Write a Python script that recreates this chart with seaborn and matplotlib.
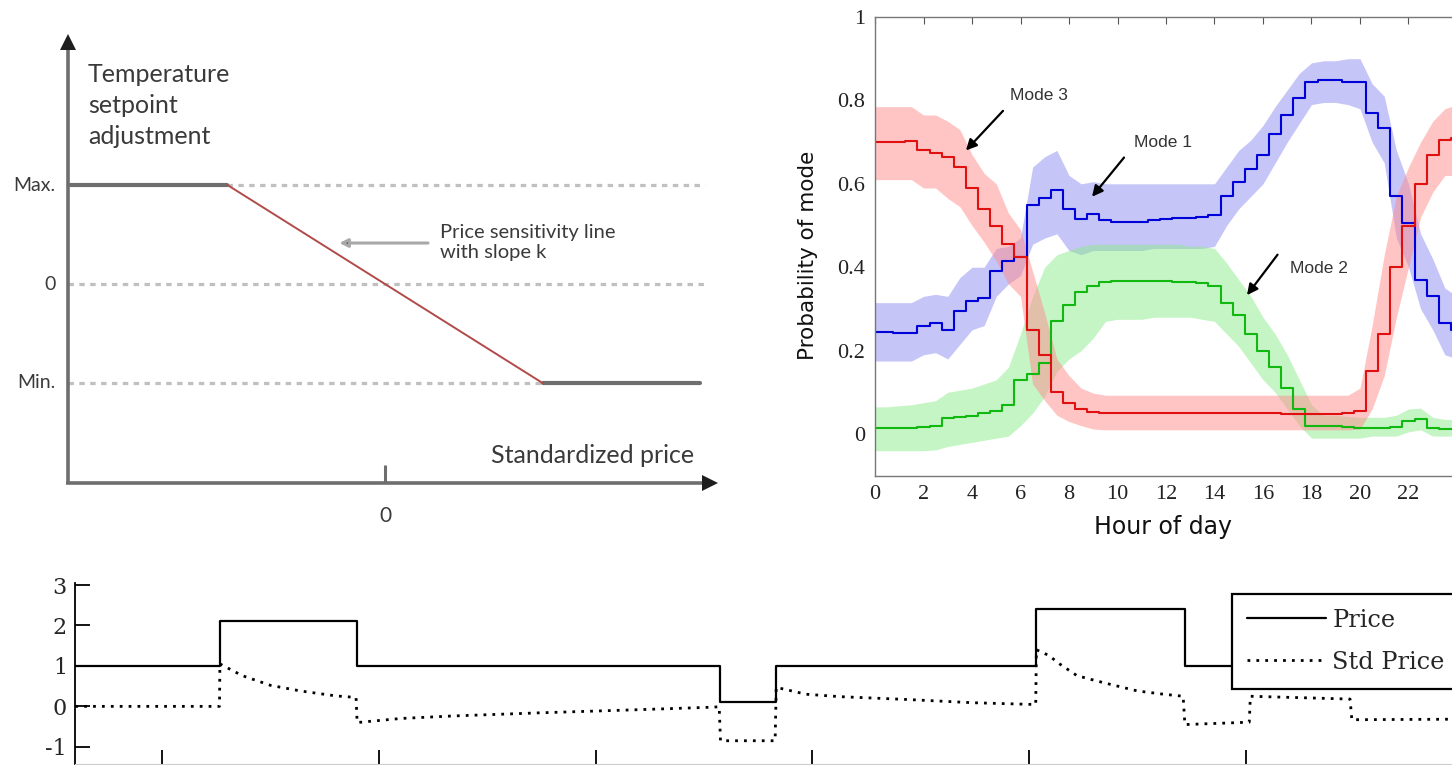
import numpy as np
import pandas as pd
import matplotlib
matplotlib.use("Agg")
import matplotlib.pyplot as plt
import seaborn as sns

sns.set_style("white")
plt.rcParams['font.family'] = ['DejaVu Sans']
plt.rcParams['axes.unicode_minus'] = False

# ---------------- Panel A: price-sensitivity schematic ----------------
price_knots = [-2.0, -1.0, 1.0, 2.0]
setpoint_adj = [1.0, 1.0, -1.0, -1.0]
level_labels = ["Max.", "0", "Min."]
level_values = [1.0, 0.0, -1.0]
price_tick_labels = ["0"]
price_tick_values = [0.0]

# ---------------- Panel B: probability of mode by hour ----------------
hour = np.arange(0, 24.01, 0.5)
hour_ticks = [0, 2, 4, 6, 8, 10, 12, 14, 16, 18, 20, 22]
prob_ticks = [0, 0.2, 0.4, 0.6, 0.8, 1.0]
prob_tick_labels = ["0", "0.2", "0.4", "0.6", "0.8", "1"]

mode1_mean = [0.245, 0.245, 0.243, 0.243, 0.260, 0.265, 0.250, 0.295, 0.320, 0.325,
              0.390, 0.415, 0.425, 0.550, 0.565, 0.585, 0.540, 0.515, 0.528, 0.512,
              0.508, 0.508, 0.508, 0.513, 0.515, 0.517, 0.518, 0.520, 0.525, 0.570,
              0.605, 0.635, 0.670, 0.720, 0.765, 0.805, 0.845, 0.850, 0.848, 0.845,
              0.843, 0.770, 0.735, 0.570, 0.505, 0.370, 0.330, 0.265, 0.250]
mode1_lo = [0.175, 0.175, 0.175, 0.175, 0.190, 0.195, 0.180, 0.215, 0.250, 0.260,
            0.330, 0.360, 0.380, 0.455, 0.470, 0.480, 0.440, 0.430, 0.440, 0.440,
            0.440, 0.440, 0.440, 0.445, 0.445, 0.445, 0.445, 0.445, 0.450, 0.500,
            0.540, 0.570, 0.600, 0.650, 0.700, 0.745, 0.790, 0.795, 0.795, 0.790,
            0.780, 0.700, 0.650, 0.470, 0.400, 0.300, 0.250, 0.190, 0.180]
mode1_hi = [0.315, 0.315, 0.315, 0.315, 0.330, 0.335, 0.330, 0.375, 0.400, 0.400,
            0.445, 0.450, 0.470, 0.640, 0.665, 0.680, 0.620, 0.600, 0.605, 0.600,
            0.600, 0.600, 0.600, 0.600, 0.600, 0.600, 0.600, 0.600, 0.600, 0.640,
            0.680, 0.705, 0.740, 0.785, 0.825, 0.865, 0.890, 0.895, 0.895, 0.900,
            0.900, 0.840, 0.810, 0.680, 0.600, 0.480, 0.420, 0.350, 0.330]

mode2_mean = [0.014, 0.014, 0.015, 0.015, 0.016, 0.018, 0.038, 0.040, 0.042, 0.050,
              0.055, 0.070, 0.130, 0.145, 0.170, 0.270, 0.310, 0.340, 0.355, 0.365,
              0.368, 0.368, 0.367, 0.367, 0.366, 0.365, 0.365, 0.363, 0.355, 0.315,
              0.285, 0.240, 0.200, 0.160, 0.110, 0.060, 0.020, 0.018, 0.018, 0.017,
              0.015, 0.015, 0.015, 0.016, 0.030, 0.035, 0.015, 0.012, 0.012]
mode2_lo = [-0.040, -0.040, -0.040, -0.040, -0.040, -0.038, -0.030, -0.025, -0.020, -0.015,
            -0.010, -0.005, 0.020, 0.050, 0.090, 0.150, 0.180, 0.200, 0.230, 0.270,
            0.275, 0.275, 0.275, 0.280, 0.280, 0.280, 0.280, 0.275, 0.270, 0.240,
            0.210, 0.170, 0.130, 0.100, 0.060, 0.020, -0.010, -0.010, -0.010, -0.010,
            -0.010, -0.005, -0.005, -0.005, 0.005, 0.010, -0.005, -0.005, -0.005]
mode2_hi = [0.065, 0.065, 0.068, 0.070, 0.075, 0.080, 0.100, 0.105, 0.110, 0.120,
            0.130, 0.160, 0.240, 0.330, 0.400, 0.430, 0.440, 0.450, 0.455, 0.455,
            0.455, 0.455, 0.455, 0.455, 0.455, 0.455, 0.450, 0.450, 0.445, 0.410,
            0.370, 0.330, 0.280, 0.240, 0.190, 0.130, 0.070, 0.045, 0.045, 0.042,
            0.040, 0.040, 0.040, 0.045, 0.060, 0.062, 0.040, 0.035, 0.035]

mode3_mean = [0.700, 0.700, 0.700, 0.702, 0.680, 0.675, 0.665, 0.640, 0.590, 0.540,
              0.500, 0.455, 0.425, 0.250, 0.190, 0.100, 0.075, 0.060, 0.052, 0.050,
              0.050, 0.050, 0.050, 0.050, 0.050, 0.050, 0.050, 0.050, 0.050, 0.050,
              0.050, 0.050, 0.050, 0.050, 0.049, 0.048, 0.048, 0.048, 0.048, 0.050,
              0.055, 0.150, 0.240, 0.400, 0.500, 0.600, 0.670, 0.705, 0.710]
mode3_lo = [0.610, 0.610, 0.610, 0.610, 0.590, 0.590, 0.565, 0.545, 0.500, 0.460,
            0.415, 0.360, 0.330, 0.120, 0.080, 0.045, 0.030, 0.020, 0.012, 0.010,
            0.010, 0.010, 0.010, 0.010, 0.010, 0.010, 0.010, 0.010, 0.010, 0.010,
            0.010, 0.010, 0.010, 0.010, 0.010, 0.010, 0.010, 0.010, 0.010, 0.010,
            0.012, 0.060, 0.140, 0.280, 0.400, 0.520, 0.580, 0.620, 0.620]
mode3_hi = [0.785, 0.785, 0.785, 0.785, 0.765, 0.765, 0.750, 0.730, 0.670, 0.625,
            0.600, 0.530, 0.490, 0.390, 0.290, 0.180, 0.140, 0.110, 0.098, 0.093,
            0.093, 0.093, 0.093, 0.093, 0.093, 0.093, 0.093, 0.093, 0.093, 0.093,
            0.093, 0.093, 0.093, 0.093, 0.093, 0.093, 0.093, 0.093, 0.093, 0.093,
            0.110, 0.260, 0.430, 0.570, 0.640, 0.700, 0.750, 0.780, 0.790]

mode_labels = ["Mode 1", "Mode 2", "Mode 3"]

# ---------------- Panel C: price and standardized price ----------------
price_x = [0.0, 66.7, 129.9, 297.4, 323.2, 443.1, 511.8, 700.0]
price_y = [1.0, 2.1, 1.0, 0.1, 1.0, 2.4, 1.0, 1.0]
std_x = [0.0, 66.5, 66.7, 77.0, 90.0, 104.0, 120.0, 129.5, 130.0, 150.0,
         173.0, 214.0, 261.0, 294.0, 297.0, 297.6, 322.8, 323.3, 337.0, 352.7,
         383.6, 414.0, 440.0, 443.0, 443.3, 449.0, 454.0, 462.0, 471.0, 480.0,
         490.0, 502.0, 511.0, 511.8, 537.0, 541.5, 542.0, 588.0, 588.8, 700.0]
std_y = [0.0, 0.0, 1.05, 0.76, 0.52, 0.38, 0.26, 0.22, -0.40, -0.30,
         -0.24, -0.16, -0.08, -0.02, -0.01, -0.85, -0.85, 0.47, 0.30, 0.24,
         0.17, 0.09, 0.05, 0.05, 1.40, 1.26, 1.05, 0.76, 0.63, 0.51,
         0.38, 0.30, 0.25, -0.45, -0.40, -0.39, 0.25, 0.18, -0.33, -0.30]
series_labels = ["Price", "Std Price"]
c_yticks = [-1, 0, 1, 2, 3]
c_xticks = [40, 140, 240, 340, 440, 540]

W, H = 1452, 765
fig = plt.figure(figsize=(W / 100, H / 100), dpi=100)

# ===================== Panel A =====================
axA = fig.add_axes([0, 1 - 540 / H, 730 / W, 540 / H])
axA.set_xlim(-2.444, 2.190)
axA.set_ylim(-2.586, 2.869)
axA.axis('off')
gray = '#6e6e6e'
txtc = '#3a3a3a'
x0, y0 = -2.013, -2.010
y_tip, x_tip = 2.50, 2.10
axA.plot([x0, x0], [y0, y_tip - 0.08], color=gray, lw=2.6, solid_capstyle='butt')
axA.plot([x0 - 0.01, x_tip - 0.05], [y0, y0], color=gray, lw=2.6, solid_capstyle='butt')
axA.plot([x0], [y_tip - 0.06], marker='^', ms=11, color='#1e1e1e', mew=0)
axA.plot([x_tip - 0.04], [y0], marker='>', ms=11, color='#1e1e1e', mew=0)
dash_end = 2.03
dash_kw = dict(color='#c0c0c0', lw=2.3, linestyle=(0, (1.7, 1.7)), zorder=1)
axA.hlines(level_values[0], price_knots[1], dash_end, **dash_kw)
axA.hlines(level_values[1], x0, dash_end, **dash_kw)
axA.hlines(level_values[2], x0, price_knots[2], **dash_kw)
sns.lineplot(x=price_knots[:2], y=setpoint_adj[:2], ax=axA, color=gray, lw=3.0,
             estimator=None, sort=False, zorder=3)
sns.lineplot(x=price_knots[2:], y=setpoint_adj[2:], ax=axA, color=gray, lw=3.0,
             estimator=None, sort=False, zorder=3)
sns.lineplot(x=price_knots[1:3], y=setpoint_adj[1:3], ax=axA, color='#b24a4a', lw=1.4,
             estimator=None, sort=False, zorder=4)
for pv, pl in zip(price_tick_values, price_tick_labels):
    axA.plot([pv, pv], [y0, -1.83], color=gray, lw=2.2, solid_capstyle='butt')
    axA.text(pv, -2.34, pl, ha='center', va='center', fontsize=15, family='Lato', color=txtc)
for lv, ll in zip(level_values, level_labels):
    axA.text(-2.09, lv, ll, ha='right', va='center', fontsize=14, family='Lato', color=txtc)
axA.text(-1.885, 1.80, "Temperature\nsetpoint\nadjustment", ha='left', va='center',
         fontsize=18, family='Lato', color=txtc, linespacing=1.42)
axA.text(1.96, -1.73, "Standardized price", ha='right', va='center',
         fontsize=18, family='Lato', color=txtc)
axA.text(0.349, 0.42, "Price sensitivity line\nwith slope k", ha='left', va='center',
         fontsize=14.5, family='Lato', color=txtc, linespacing=1.25)
axA.annotate('', xy=(-0.29, 0.414), xytext=(0.273, 0.414),
             arrowprops=dict(arrowstyle='-|>', ec='#a8a8a8', fc='#333333', lw=2.2,
                             mutation_scale=12, shrinkA=0, shrinkB=0))

# ===================== Panel B =====================
bl, bt, bb = 875, 17, 475.7
axB = fig.add_axes([bl / W, 1 - bb / H, 582 / W, (bb - bt) / H])
series = [
    (mode1_mean, mode1_lo, mode1_hi, '#8c8cf0', '#0000d8'),
    (mode2_mean, mode2_lo, mode2_hi, '#8ceb8c', '#10b810'),
    (mode3_mean, mode3_lo, mode3_hi, '#ff8c8c', '#e01010'),
]
for mean, lo, hi, fc, lc in series:
    axB.fill_between(hour, lo, hi, color=fc, alpha=0.5, lw=0)
for mean, lo, hi, fc, lc in series:
    sns.lineplot(x=hour, y=mean, ax=axB, color=lc, lw=1.5, drawstyle='steps-mid',
                 estimator=None, sort=False)
axB.set_xlim(0, 24)
axB.set_ylim(-0.1, 1.0)
axB.set_xticks(hour_ticks)
axB.set_xticklabels([str(h) for h in hour_ticks])
axB.set_yticks(prob_ticks)
axB.set_yticklabels(prob_tick_labels)
axB.tick_params(direction='in', length=5, width=0.8, color='#555555', top=True,
                labelsize=16, pad=7)
for lab in axB.get_xticklabels() + axB.get_yticklabels():
    lab.set_family('Liberation Serif')
    lab.set_color('#222222')
for s in axB.spines.values():
    s.set_color('#777777')
    s.set_linewidth(1.0)
axB.set_xlabel("Hour of day", fontsize=17, family='DejaVu Sans', color='#111111')
axB.set_ylabel("Probability of mode", fontsize=15.5, family='DejaVu Sans', color='#111111')
axB.xaxis.set_label_coords((1163 - bl) / 582, (bb - 515) / (bb - bt))
axB.yaxis.set_label_coords((818 - bl) / 582, (bb - 255) / (bb - bt))

ann = [
    (mode_labels[2], (5.57, 0.811), (5.28, 0.775), (3.75, 0.68)),
    (mode_labels[0], (10.68, 0.70), (10.27, 0.663), (8.95, 0.569)),
    (mode_labels[1], (17.1, 0.397), (16.6, 0.43), (15.34, 0.333)),
]
for txt, tpos, tail, head in ann:
    axB.text(tpos[0], tpos[1], txt, ha='left', va='center', fontsize=12.5,
             family='Liberation Sans', color='#333333')
    axB.annotate('', xy=head, xytext=tail,
                 arrowprops=dict(arrowstyle='-|>', color='black', lw=1.6,
                                 mutation_scale=16, shrinkA=0, shrinkB=0))

# ===================== Panel C =====================
c_left_px, c_top_px, c_bot_px = 75.3, 583, 764
c_px_per_unit = 2.168
c_xmax = 700.0
axC = fig.add_axes([c_left_px / W, 1 - c_bot_px / H, c_xmax * c_px_per_unit / W,
                    (c_bot_px - c_top_px) / H])
sns.lineplot(x=price_x, y=price_y, ax=axC, color='black', lw=1.6, drawstyle='steps-post',
             estimator=None, sort=False, label=series_labels[0])
sns.lineplot(x=std_x, y=std_y, ax=axC, color='black', lw=2.0, linestyle=(0, (1, 2.2)),
             estimator=None, sort=False, label=series_labels[1])
axC.set_xlim(0, c_xmax)
axC.set_ylim(-1.425, 3.05)
axC.set_yticks(c_yticks)
axC.set_yticklabels([str(v) for v in c_yticks])
axC.set_xticks(c_xticks)
axC.set_xticklabels([])
axC.tick_params(axis='y', direction='in', length=10.5, width=1.3, color='black',
                labelsize=16, pad=6, left=True)
axC.tick_params(axis='x', direction='in', length=10, width=1.3, color='black', bottom=True)
for lab in axC.get_yticklabels():
    lab.set_family('DejaVu Serif')
axC.spines['top'].set_visible(False)
axC.spines['right'].set_visible(False)
axC.spines['left'].set_color('black')
axC.spines['left'].set_linewidth(1.3)
axC.spines['bottom'].set_color('#cccccc')
leg = axC.legend(loc='upper left', bbox_to_anchor=(1232 / W, 1 - 594 / H),
                 bbox_transform=fig.transFigure, borderaxespad=0, fancybox=False,
                 framealpha=1, edgecolor='black', handlelength=3.3, handletextpad=0.25,
                 borderpad=0.62, labelspacing=0.78, prop={'family': 'DejaVu Serif', 'size': 17.3})
leg.get_frame().set_linewidth(1.6)
leg.set_zorder(10)

fig.savefig("out.png", dpi=100)
